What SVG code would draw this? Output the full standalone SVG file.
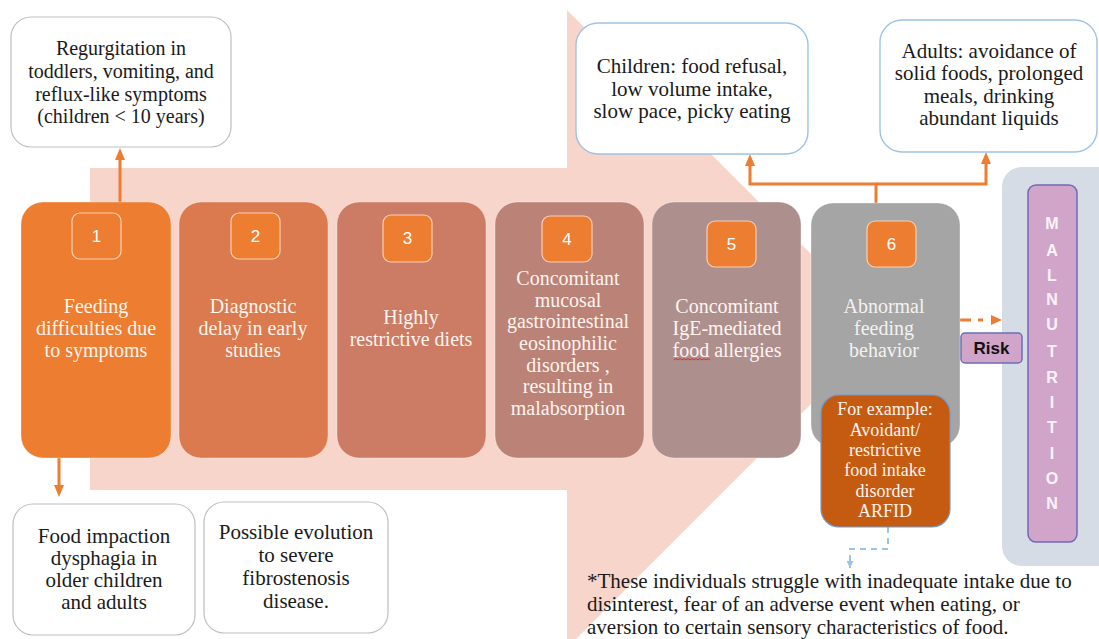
<svg xmlns="http://www.w3.org/2000/svg" width="1099" height="639" viewBox="0 0 1099 639">
<defs>
<style>
.serif{font-family:"Liberation Serif","Times New Roman",serif;font-size:20px;text-anchor:middle}
.dark{fill:#1a1a1a}
.light{fill:#FFF4EE}
.num{font-family:"Liberation Sans",Arial,sans-serif;font-size:17px;fill:#ffffff;text-anchor:middle}
.sq{fill:#ED7D31;stroke:#F9D0B4;stroke-width:1.2}
.wbox{fill:#ffffff;stroke:#BFBFBF;stroke-width:1.2}
.bbox{fill:#ffffff;stroke:#9DC3E6;stroke-width:1.4}
.step{stroke:#ffffff;stroke-opacity:0.35;stroke-width:1}
.conn{fill:none;stroke:#ED7D31;stroke-width:3}
.letter{font-family:"Liberation Sans",Arial,sans-serif;font-size:16px;font-weight:bold;fill:#FBF4FA;text-anchor:middle}
</style>
<marker id="ab" viewBox="0 0 10 10" refX="10" refY="5" markerWidth="7" markerHeight="7" markerUnits="userSpaceOnUse" orient="auto">
<path d="M0,0 L10,5 L0,10 z" fill="#9DC3E6"/>
</marker>
</defs>
<rect width="1099" height="639" fill="#ffffff"/>

<g id="big-arrow">
<path d="M90,168 H567 V10 L886,329 L567,648 V490 H90 Z" fill="#F7D5CA"/>
</g>

<g id="connectors">
<path class="conn" d="M120,202 V158"/>
<path class="conn" d="M59,458 V487"/>
<path class="conn" d="M876,203 V184 H750 V164"/>
<path class="conn" d="M876,184 H986 V162"/>
<polygon points="750,154 745,166 755,166" fill="#ED7D31"/>
<polygon points="986,152 981,164 991,164" fill="#ED7D31"/>
<polygon points="120,148 115,160 125,160" fill="#ED7D31"/>
<polygon points="59,497 54,485 64,485" fill="#ED7D31"/>
<path d="M957,320 H971 M978,320 H983" fill="none" stroke="#ED7D31" stroke-width="3"/>
<polygon points="1002,320 991,315 991,325" fill="#ED7D31"/>
<path d="M888,527 V549 H850 V568" fill="none" stroke="#9DC3E6" stroke-width="2" stroke-dasharray="6 5" marker-end="url(#ab)"/>
</g>

<g id="node-regurgitation">
<rect class="wbox" x="11" y="17" width="220" height="130" rx="20"/>
<text class="serif dark"><tspan x="121" y="55">Regurgitation in</tspan><tspan x="121" y="78">toddlers, vomiting, and</tspan><tspan x="121" y="100.5">reflux-like symptoms</tspan><tspan x="121" y="123">(children &lt; 10 years)</tspan></text>
</g>

<g id="node-children">
<rect class="bbox" x="576" y="23" width="232" height="131" rx="22"/>
<text class="serif dark" style="font-size:21px"><tspan x="692" y="73">Children: food refusal,</tspan><tspan x="692" y="95.5">low volume intake,</tspan><tspan x="692" y="118">slow pace, picky eating</tspan></text>
</g>

<g id="node-adults">
<rect class="bbox" x="880" y="20" width="217" height="132" rx="22"/>
<text class="serif dark" style="font-size:21px"><tspan x="989" y="58">Adults: avoidance of</tspan><tspan x="989" y="80">solid foods, prolonged</tspan><tspan x="989" y="103">meals, drinking</tspan><tspan x="989" y="125">abundant liquids</tspan></text>
</g>

<g id="node-1">
<rect class="step" x="21" y="202" width="150" height="256" rx="22" fill="#ED7D31"/>
<rect class="sq" x="72" y="213" width="49" height="46" rx="8"/>
<text class="num" x="96.5" y="242">1</text>
<text class="serif light"><tspan x="96" y="313">Feeding</tspan><tspan x="96" y="335">difficulties due</tspan><tspan x="96" y="357">to symptoms</tspan></text>
</g>

<g id="node-2">
<rect class="step" x="179" y="202" width="149" height="256" rx="22" fill="#DB7A4F"/>
<rect class="sq" x="231" y="213" width="49" height="46" rx="8"/>
<text class="num" x="255.5" y="242">2</text>
<text class="serif light"><tspan x="253" y="313">Diagnostic</tspan><tspan x="253" y="335">delay in early</tspan><tspan x="253" y="357">studies</tspan></text>
</g>

<g id="node-3">
<rect class="step" x="337" y="202" width="149" height="256" rx="22" fill="#CC7B64"/>
<rect class="sq" x="383" y="215" width="49" height="47" rx="8"/>
<text class="num" x="407.5" y="244">3</text>
<text class="serif light"><tspan x="411" y="324">Highly</tspan><tspan x="411" y="346">restrictive diets</tspan></text>
</g>

<g id="node-4">
<rect class="step" x="495" y="202" width="149" height="256" rx="22" fill="#BB8277"/>
<rect class="sq" x="542" y="216" width="50" height="46" rx="8"/>
<text class="num" x="567" y="245">4</text>
<text class="serif light"><tspan x="568" y="285">Concomitant</tspan><tspan x="568" y="306.7">mucosal</tspan><tspan x="568" y="328.3">gastrointestinal</tspan><tspan x="568" y="350">eosinophilic</tspan><tspan x="568" y="371.7">disorders ,</tspan><tspan x="568" y="393.3">resulting in</tspan><tspan x="568" y="415">malabsorption</tspan></text>
</g>

<g id="node-5">
<rect class="step" x="652" y="202" width="149" height="256" rx="22" fill="#AD8F8E"/>
<rect class="sq" x="707" y="221" width="49" height="46" rx="8"/>
<text class="num" x="731.5" y="250">5</text>
<text class="serif light"><tspan x="727" y="313">Concomitant</tspan><tspan x="727" y="335">IgE-mediated</tspan><tspan x="727" y="357">food allergies</tspan></text>
<path d="M674,360 l2,-1.5 l2,1.5 l2,-1.5 l2,1.5 l2,-1.5 l2,1.5 l2,-1.5 l2,1.5 l2,-1.5 l2,1.5 l2,-1.5 l2,1.5 l2,-1.5 l2,1.5 l2,-1.5 l2,1.5 l2,-1.5 l2,1.5" fill="none" stroke="#E02020" stroke-width="0.9"/>
</g>

<g id="node-6">
<rect class="step" x="811" y="203" width="149" height="244" rx="22" fill="#A5A5A5"/>
<rect class="sq" x="867" y="221" width="49" height="46" rx="8"/>
<text class="num" x="891.5" y="250">6</text>
<text class="serif" fill="#F2F2F2"><tspan x="884" y="313">Abnormal</tspan><tspan x="884" y="335">feeding</tspan><tspan x="884" y="357">behavior</tspan></text>
</g>

<g id="node-arfid">
<rect x="821" y="395" width="129" height="132" rx="18" fill="#C55A11" stroke="#6C9BD2" stroke-width="1.2"/>
<text class="serif light" style="font-size:18px"><tspan x="885" y="415">For example:</tspan><tspan x="885" y="435.5">Avoidant/</tspan><tspan x="885" y="456">restrictive</tspan><tspan x="885" y="476">food intake</tspan><tspan x="885" y="496.5">disorder</tspan><tspan x="885" y="517">ARFID</tspan></text>
</g>

<g id="node-malnutrition">
<rect x="1002" y="167" width="120" height="399" rx="20" fill="#D5DCE5"/>
<rect x="1028" y="185" width="49" height="357" rx="8" fill="#D1A5C9" stroke="#7069B5" stroke-width="1.5"/>
<text class="letter" x="1052" y="229">M</text>
<text class="letter" x="1052" y="256">A</text>
<text class="letter" x="1052" y="281">L</text>
<text class="letter" x="1052" y="305">N</text>
<text class="letter" x="1052" y="330">U</text>
<text class="letter" x="1052" y="357">T</text>
<text class="letter" x="1052" y="383">R</text>
<text class="letter" x="1052" y="408">I</text>
<text class="letter" x="1052" y="433">T</text>
<text class="letter" x="1052" y="459">I</text>
<text class="letter" x="1052" y="484">O</text>
<text class="letter" x="1052" y="509">N</text>
</g>

<g id="node-risk">
<rect x="961" y="333" width="61" height="30" rx="4" fill="#D1A5C9" stroke="#6A6FB0" stroke-width="1.5"/>
<text x="991.5" y="354" font-family="Liberation Sans, Arial, sans-serif" font-size="17" font-weight="bold" fill="#111111" text-anchor="middle">Risk</text>
</g>

<g id="node-impaction">
<rect class="wbox" x="13" y="504" width="182" height="131" rx="20"/>
<text class="serif dark" style="font-size:21px"><tspan x="104" y="543">Food impaction</tspan><tspan x="104" y="565">dysphagia in</tspan><tspan x="104" y="587">older children</tspan><tspan x="104" y="609">and adults</tspan></text>
</g>

<g id="node-evolution">
<rect class="wbox" x="204" y="502" width="184" height="131" rx="20"/>
<text class="serif dark" style="font-size:21px"><tspan x="296" y="539">Possible evolution</tspan><tspan x="296" y="562">to severe</tspan><tspan x="296" y="585">fibrostenosis</tspan><tspan x="296" y="608">disease.</tspan></text>
</g>

<g id="footnote">
<text font-family="Liberation Serif, Times New Roman, serif" font-size="21" fill="#1a1a1a"><tspan x="587" y="588">*These individuals struggle with inadequate intake due to</tspan><tspan x="587" y="611">disinterest, fear of an adverse event when eating, or</tspan><tspan x="587" y="634">aversion to certain sensory characteristics of food.</tspan></text>
</g>
</svg>
